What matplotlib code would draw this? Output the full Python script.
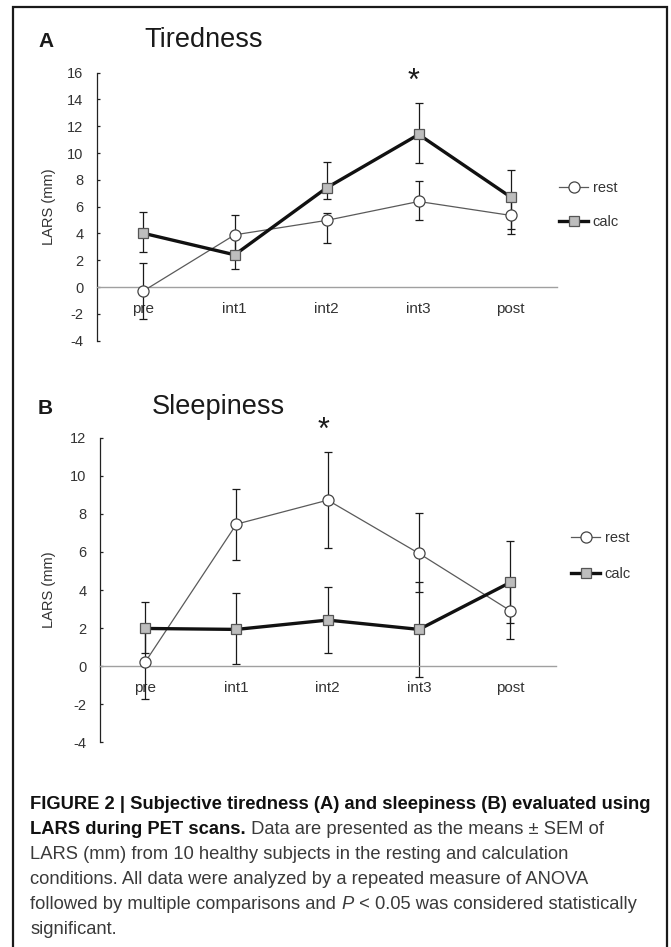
import matplotlib
matplotlib.use('Agg')
import matplotlib.pyplot as plt
from matplotlib import font_manager
from matplotlib.patches import Rectangle

# Данные (LARS, мм): среднее и границы ошибок (SEM)
categories = ['pre', 'int1', 'int2', 'int3', 'post']

tired_rest = [-0.32, 3.90, 4.98, 6.39, 5.35]
tired_rest_lo = [2.09, 1.45, 1.67, 1.41, 1.42]
tired_rest_hi = [2.14, 1.45, 0.57, 1.52, 1.42]
tired_calc = [4.03, 2.41, 7.41, 11.39, 6.72]
tired_calc_lo = [1.42, 1.07, 0.82, 2.14, 2.41]
tired_calc_hi = [1.60, 1.30, 1.92, 2.32, 1.99]

sleep_rest = [0.21, 7.46, 8.72, 5.92, 2.91]
sleep_rest_lo = [1.94, 1.89, 2.50, 2.01, 1.46]
sleep_rest_hi = [1.94, 1.85, 2.54, 2.14, 1.46]
sleep_calc = [1.98, 1.93, 2.42, 1.93, 4.40]
sleep_calc_lo = [1.28, 1.84, 1.72, 2.49, 2.12]
sleep_calc_hi = [1.40, 1.89, 1.75, 2.50, 2.18]

W, H = 671, 947

names = {f.name for f in font_manager.fontManager.ttflist}
main_font = 'Liberation Sans' if 'Liberation Sans' in names else 'DejaVu Sans'
cap_font = 'Liberation Sans Narrow' if 'Liberation Sans Narrow' in names else main_font
plt.rcParams['font.family'] = [main_font, 'DejaVu Sans']
plt.rcParams['axes.unicode_minus'] = False


def fx(px):
    return px / W


def fy(px):
    return 1 - px / H


def draw_panel(fig, rect, rest, rest_err, calc, calc_err, ylim, yticks,
               letter, title, letter_pos, title_pos, star_idx, star_y, star_dx,
               legend_pos, legend_spacing):
    ax = fig.add_axes(rect)
    x = list(range(len(categories)))

    ax.errorbar(x, rest, yerr=rest_err, fmt='none', ecolor='#1a1a1a',
                elinewidth=0.9, capsize=3.0, capthick=0.9, zorder=2)
    ax.errorbar(x, calc, yerr=calc_err, fmt='none', ecolor='#1a1a1a',
                elinewidth=0.9, capsize=3.0, capthick=0.9, zorder=2)
    l_rest, = ax.plot(x, rest, '-', color='#5a5a5a', lw=0.9, marker='o',
                      ms=8, mfc='white', mec='#444444', mew=0.9,
                      label='rest', zorder=3)
    l_calc, = ax.plot(x, calc, '-', color='#111111', lw=2.4, marker='s',
                      ms=7.5, mfc='#bdbdbd', mec='#555555', mew=0.9,
                      label='calc', zorder=4)

    ax.set_xlim(-0.5, len(categories) - 0.5)
    ax.set_ylim(*ylim)
    ax.set_yticks(yticks)
    ax.set_xticks(x)
    ax.set_xticklabels(categories)

    for s in ['top', 'right']:
        ax.spines[s].set_visible(False)
    ax.spines['bottom'].set_position(('data', 0))
    ax.spines['bottom'].set_color('#a0a0a0')
    ax.spines['bottom'].set_linewidth(1.0)
    ax.spines['left'].set_color('#222222')
    ax.spines['left'].set_linewidth(0.9)
    ax.tick_params(axis='y', direction='in', length=2.5, width=0.9,
                   color='#222222', pad=9.5, labelsize=10.5, labelcolor='#333333')
    ax.tick_params(axis='x', length=0, pad=10.5, labelsize=11, labelcolor='#333333')
    ax.set_facecolor('white')

    ax.set_ylabel('LARS (mm)', fontsize=10.5, color='#333333')
    ax.yaxis.set_label_coords((56 - rect[0] * W) / (rect[2] * W), 0.5)

    fig.text(fx(letter_pos[0]), fy(letter_pos[1]), letter, fontsize=15,
             fontweight='bold', color='#1a1a1a', va='baseline', ha='left')
    fig.text(fx(title_pos[0]), fy(title_pos[1]), title, fontsize=19.5,
             color='#1a1a1a', va='baseline', ha='left')

    ax.annotate('*', (star_idx, star_y), xytext=(star_dx, 0),
                textcoords='offset points', ha='center', va='center',
                fontsize=22, color='#1a1a1a', annotation_clip=False)

    ax.legend(handles=[l_rest, l_calc], loc='center left',
              bbox_to_anchor=(fx(legend_pos[0]), fy(legend_pos[1])),
              bbox_transform=fig.transFigure, frameon=False, borderpad=0,
              borderaxespad=0, handlelength=2.0, handletextpad=0.3,
              labelspacing=legend_spacing, numpoints=1, fontsize=10.5,
              labelcolor='#333333')
    return ax


fig = plt.figure(figsize=(W / 100, H / 100), dpi=100)

# Панель A: усталость
draw_panel(fig, [fx(96.7), fy(340.7), (556.7 - 96.7) / W, (340.7 - 72.7) / H],
           tired_rest, [tired_rest_lo, tired_rest_hi],
           tired_calc, [tired_calc_lo, tired_calc_hi],
           (-4, 16), range(-4, 17, 2), 'A', 'Tiredness', (38, 47), (144, 47),
           3, 15.3, -4, (559, 205), 1.36)

# Панель B: сонливость
draw_panel(fig, [fx(99.5), fy(742.3), (556 - 99.5) / W, (742.3 - 437.7) / H],
           sleep_rest, [sleep_rest_lo, sleep_rest_hi],
           sleep_calc, [sleep_calc_lo, sleep_calc_hi],
           (-4, 12), range(-4, 13, 2), 'B', 'Sleepiness', (38, 413.5), (152, 413.5),
           2, 12.35, -3, (571, 556), 1.47)

# Рамка вокруг рисунка (снизу обрезана)
fig.add_artist(Rectangle((fx(12.7), -0.05), (667 - 12.7) / W, 1.05 - 7.3 / H,
                         transform=fig.transFigure, fill=False,
                         lw=1.6, ec='#1a1a1a'))

# Подпись к рисунку
caption_lines = [
    [('FIGURE 2 | Subjective tiredness (A) and sleepiness (B) evaluated using', 'bold', 'normal')],
    [('LARS during PET scans.', 'bold', 'normal'),
     (' Data are presented as the means \u00b1 SEM of', 'normal', 'normal')],
    [('LARS (mm) from 10 healthy subjects in the resting and calculation', 'normal', 'normal')],
    [('conditions. All data were analyzed by a repeated measure of ANOVA', 'normal', 'normal')],
    [('followed by multiple comparisons and ', 'normal', 'normal'),
     ('P', 'normal', 'italic'),
     (' < 0.05 was considered statistically', 'normal', 'normal')],
    [('significant.', 'normal', 'normal')],
]

renderer = fig.canvas.get_renderer()
for i, runs in enumerate(caption_lines):
    x = 30.5
    base = 808.5 + 25 * i
    for s, weight, style in runs:
        color = '#111111' if weight == 'bold' else '#3a3a3a'
        t = fig.text(fx(x), fy(base), s, fontsize=13.2, fontweight=weight,
                     fontstyle=style, family=[cap_font, 'DejaVu Sans'],
                     color=color, va='baseline', ha='left')
        bb = t.get_window_extent(renderer)
        x = bb.x1

fig.savefig('out.png', dpi=100)
